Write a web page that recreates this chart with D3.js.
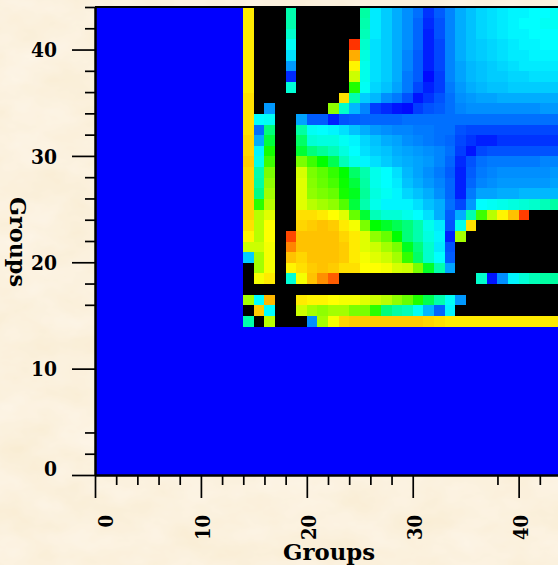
<!DOCTYPE html>
<html><head><meta charset="utf-8">
<style>html,body{margin:0;padding:0;background:#fbf2df;overflow:hidden}svg{display:block}</style>
<script src="https://cdn.jsdelivr.net/npm/d3@7"></script>
</head><body><svg id="c" width="558" height="565"></svg>
<script>
const _ = null;
const firstGroup = 14;
const groupCount = 44;
const xMajor = [0,10,20,30,40];
const xMinor = [2,4,6,8,12,14,16,18,22,24,26,28,38,42];
const yMajor = [0,10,20,30,40];
const yMinor = [2,4,16,18,22,24,26,28,32,34,36,38,42,44];
const axisTitle = "Groups";
const stops = [0,25,50,75,100];
const stopColors = ["#0000ff","#00ffff","#00ff00","#ffff00","#ff0000"];
// rows from group 43 (top) down to group 14; columns group 14..43; null = black
const row43=[77,_,_,_,33,_,_,_,_,_,_,34,23,20,17,14,11,5,9,13,17,19,21,22,23,24,24,25,25,26];
const row42=[77,_,_,_,33,_,_,_,_,_,_,33,23,20,17,14,10,4,8,13,17,19,21,22,23,24,25,25,26,26];
const row41=[77,_,_,_,30,_,_,_,_,_,_,32,23,20,17,14,10,3,8,13,17,19,21,22,23,24,24,25,25,25];
const row40=[77,_,_,_,26,_,_,_,_,_,95,30,22,20,17,14,10,3,7,13,17,19,20,21,22,23,24,24,25,25];
const row39=[77,_,_,_,22,_,_,_,_,_,83,28,22,20,17,13,9,3,7,13,17,19,20,21,22,23,23,24,24,24];
const row38=[77,_,_,_,15,_,_,_,_,_,76,27,22,20,17,13,9,3,7,13,16,18,19,20,21,22,23,23,23,23];
const row37=[77,_,_,_,4,_,_,_,_,_,70,27,22,20,17,12,9,1,6,13,16,18,19,20,20,21,21,22,22,22];
const row36=[77,_,_,_,29,_,_,_,_,_,53,26,21,19,16,12,7,3,6,12,15,17,18,19,19,20,20,20,20,20];
const row35=[78,_,_,_,_,_,_,_,_,78,33,20,18,14,12,8,2,5,8,11,14,15,16,16,17,17,17,17,17,17];
const row34=[78,_,15,_,_,_,_,_,64,30,18,13,6,4,2,1,6,8,9,11,13,14,14,14,14,14,14,14,15,15];
const row33=[78,25,26,_,_,16,9,9,3,8,9,10,10,10,10,11,11,11,11,11,11,11,11,11,11,11,11,11,11,11];
const row32=[78,11,38,_,_,34,26,25,24,22,19,17,15,14,13,13,12,12,11,11,8,7,7,7,7,7,7,7,7,7];
const row31=[79,17,44,_,_,40,29,28,28,26,24,21,19,17,16,14,13,12,11,10,7,5,3,3,5,5,5,5,5,5];
const row30=[79,24,52,_,_,45,38,35,32,28,25,22,20,19,17,16,15,14,13,11,6,2,7,8,8,8,8,8,8,8];
const row29=[80,27,56,_,_,62,56,50,42,32,27,24,22,20,18,17,16,15,13,10,4,8,11,12,12,12,12,12,13,13];
const row28=[79,33,62,_,_,71,62,59,55,50,40,33,27,25,22,18,16,14,12,9,3,9,12,13,14,14,14,14,14,15];
const row27=[79,34,64,_,_,72,63,60,57,51,44,34,27,25,23,19,17,15,13,10,3,10,13,14,15,15,15,15,15,16];
const row26=[79,37,66,_,_,72,64,62,60,52,47,35,28,26,24,21,19,17,14,10,3,12,16,16,17,17,18,18,18,18];
const row25=[79,54,68,_,_,72,68,66,64,58,44,33,27,24,24,24,22,19,17,11,7,15,25,26,27,28,29,30,32,34];
const row24=[79,68,72,_,_,78,78,77,75,72,60,45,32,29,29,27,25,22,17,9,17,33,56,68,76,81,94,_,_,_];
const row23=[78,68,75,_,_,79,80,81,80,77,74,62,50,46,42,38,33,27,23,8,27,78,_,_,_,_,_,_,_,_];
const row22=[76,68,75,_,93,81,81,81,81,79,77,72,64,60,50,38,33,28,24,3,66,_,_,_,_,_,_,_,_,_];
const row21=[70,70,74,_,87,81,81,81,81,80,77,72,70,66,62,47,38,30,23,8,_,_,_,_,_,_,_,_,_,_];
const row20=[20,66,74,_,81,79,81,81,81,80,77,74,72,70,66,55,40,30,25,9,_,_,_,_,_,_,_,_,_,_];
const row19=[_,66,74,_,76,78,80,81,80,78,78,75,75,74,71,70,62,46,33,16,_,_,_,_,_,_,_,_,_,_];
const row18=[_,74,77,_,29,74,81,86,91,_,_,_,_,_,_,_,_,_,_,_,_,_,30,2,14,24,29,32,34,34];
const row17=[_,_,_,_,_,_,_,_,_,_,_,_,_,_,_,_,_,_,_,_,_,_,_,_,_,_,_,_,_,_];
const row16=[66,25,82,_,_,77,76,76,75,74,74,72,70,68,64,60,53,42,33,26,15,_,_,_,_,_,_,_,_,_];
const row15=[_,80,25,_,_,70,66,64,66,66,62,62,54,38,34,32,26,18,10,24,_,_,_,_,_,_,_,_,_,_];
const row14=[33,_,68,_,_,_,14,66,74,79,80,80,80,80,80,80,80,79,78,77,77,77,77,77,77,77,77,77,77,77];
const rows=[row43,row42,row41,row40,row39,row38,row37,row36,row35,row34,row33,row32,row31,row30,row29,row28,row27,row26,row25,row24,row23,row22,row21,row20,row19,row18,row17,row16,row15,row14];

const svg=d3.select("#c");
const defs=svg.append("defs");
const f=defs.append("filter").attr("id","paper").attr("x",0).attr("y",0).attr("width","100%").attr("height","100%").attr("color-interpolation-filters","sRGB");
f.append("feTurbulence").attr("type","fractalNoise").attr("baseFrequency","0.018 0.03").attr("numOctaves",4).attr("seed",7);
f.append("feColorMatrix").attr("type","matrix").attr("values",
 "0.02 0 0 0 0.975  0.04 0 0 0 0.925  0.1 0 0 0 0.82  0 0 0 0 1");
svg.append("rect").attr("width",558).attr("height",565).attr("filter","url(#paper)");
defs.append("filter").attr("id","soft").attr("x",0).attr("y",0).attr("width","100%").attr("height","100%").attr("color-interpolation-filters","sRGB")
 .append("feGaussianBlur").attr("stdDeviation",0.45);

const x=d3.scaleLinear().domain([0,groupCount]).range([95,561]);
const y=d3.scaleLinear().domain([0,groupCount]).range([475,7]);
const color=d3.scaleLinear().domain(stops).range(stopColors);
const cells=[];
for(let r=0;r<groupCount;r++)for(let c=0;c<groupCount;c++){
  const inner=r>=firstGroup&&c>=firstGroup;
  cells.push({c,r,v:inner?rows[groupCount-1-r][c-firstGroup]:0});
}
svg.append("g").attr("filter","url(#soft)").attr("shape-rendering","crispEdges").selectAll("rect").data(cells).join("rect")
 .attr("x",d=>x(d.c)).attr("y",d=>y(d.r+1))
 .attr("width",d=>x(d.c+1)-x(d.c)+.5).attr("height",d=>y(d.r)-y(d.r+1)+.5)
 .attr("fill",d=>d.v===null?"#000":color(d.v));

const font='"DejaVu Serif",serif';
function style(g){g.select(".domain").attr("stroke","#000").attr("stroke-width",2);
 g.selectAll("line").attr("stroke","#000").attr("stroke-width",1.7);
 g.selectAll("text").attr("fill","#000").attr("font-family",font).attr("font-weight","bold").attr("font-size",20);}
const xAxisMinor=d3.axisBottom(x).tickValues(xMinor).tickSize(10).tickSizeOuter(0).tickFormat("");
const xAxisMajor=d3.axisBottom(x).tickValues(xMajor).tickSize(23).tickSizeOuter(0).tickFormat(d3.format("d"));
const yAxisMinor=d3.axisLeft(y).tickValues(yMinor).tickSize(10).tickSizeOuter(0).tickFormat("");
const yAxisMajor=d3.axisLeft(y).tickValues(yMajor).tickSize(23).tickSizeOuter(0).tickFormat(d3.format("d"));
svg.append("g").attr("transform","translate(0,475)").call(xAxisMinor).call(style);
const gx=svg.append("g").attr("transform","translate(0,475)").call(xAxisMajor).call(style);
svg.append("g").attr("transform","translate(95,0)").call(yAxisMinor).call(style);
const gy=svg.append("g").attr("transform","translate(95,0)").call(yAxisMajor).call(style);
gx.selectAll("text").attr("text-anchor","end").attr("dy",0)
 .attr("textLength",d=>String(d).length*12.5).attr("lengthAdjust","spacingAndGlyphs")
 .attr("transform",d=>`translate(${d===0?17:9},40) rotate(-90)`).attr("x",0).attr("y",0);
gy.selectAll("text").attr("x",-38).attr("dy",d=>d===0?0:"0.36em")
 .attr("textLength",d=>String(d).length*13).attr("lengthAdjust","spacingAndGlyphs");
svg.append("line").attr("x1",95).attr("x2",558).attr("y1",7).attr("y2",7).attr("stroke","#000").attr("stroke-width",2);
svg.append("text").text(axisTitle).attr("x",283).attr("y",560)
 .attr("font-family",font).attr("font-weight","bold").attr("font-size",23)
 .attr("textLength",92).attr("lengthAdjust","spacingAndGlyphs");
svg.append("text").text(axisTitle).attr("transform","translate(10,197) rotate(90)")
 .attr("font-family",font).attr("font-weight","bold").attr("font-size",23)
 .attr("textLength",90).attr("lengthAdjust","spacingAndGlyphs");
</script></body></html>
